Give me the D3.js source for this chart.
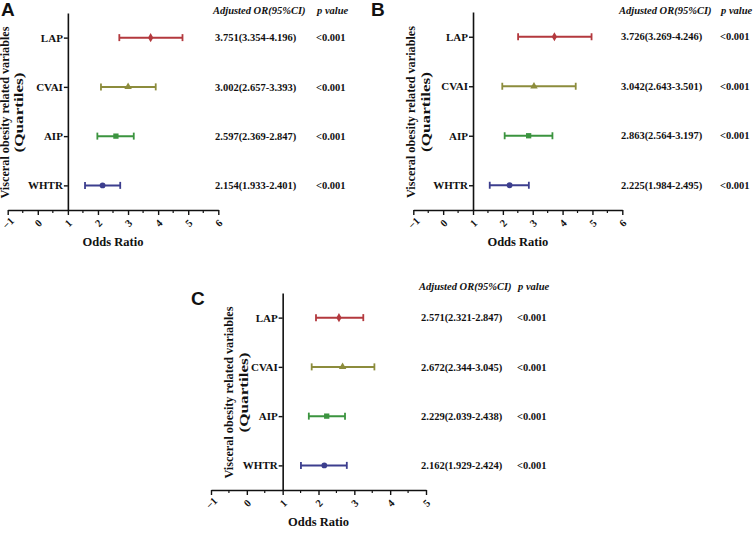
<!DOCTYPE html>
<html>
<head>
<meta charset="utf-8">
<script src="https://cdn.jsdelivr.net/npm/d3@7/dist/d3.min.js"></script>
<style>
  html, body { margin: 0; padding: 0; background: #fff; }
  svg text { font-family: "Liberation Serif", "Times New Roman", serif; font-weight: bold; fill: #111; }
</style>
</head>
<body>
<svg id="chart" width="753" height="541"></svg>
<script>
// ---------- data ----------
const categories = ["LAP", "CVAI", "AIP", "WHTR"];
const colors = ["#b3393e", "#8c8c3c", "#3b943f", "#3c3e8e"];
const markers = ["diamond", "triangle", "square", "circle"];

// Panel A
const orA = [3.751, 3.002, 2.597, 2.154];
const lowA = [2.71, 2.10, 1.98, 1.57];
const highA = [4.81, 3.92, 3.19, 2.74];
const textA = ["3.751(3.354-4.196)", "3.002(2.657-3.393)", "2.597(2.369-2.847)", "2.154(1.933-2.401)"];
const pA = ["<0.001", "<0.001", "<0.001", "<0.001"];

// Panel B
const orB = [3.726, 3.042, 2.863, 2.225];
const lowB = [2.51, 1.98, 2.06, 1.56];
const highB = [4.97, 4.44, 3.66, 2.87];
const textB = ["3.726(3.269-4.246)", "3.042(2.643-3.501)", "2.863(2.564-3.197)", "2.225(1.984-2.495)"];
const pB = ["<0.001", "<0.001", "<0.001", "<0.001"];

// Panel C
const orC = [2.571, 2.672, 2.229, 2.162];
const lowC = [1.93, 1.81, 1.73, 1.51];
const highC = [3.25, 3.56, 2.74, 2.79];
const textC = ["2.571(2.321-2.847)", "2.672(2.344-3.045)", "2.229(2.039-2.438)", "2.162(1.929-2.424)"];
const pC = ["<0.001", "<0.001", "<0.001", "<0.001"];

const ticksAB = [-1, 0, 1, 2, 3, 4, 5, 6];
const ticksC = [-1, 0, 1, 2, 3, 4, 5];

const headerOR = "Adjusted OR(95%CI)";
const headerP = "p value";
const yTitle1 = "Visceral obesity related variables";
const yTitle2 = "(Quartiles)";
const xTitle = "Odds Ratio";

// ---------- drawing ----------
const svg = d3.select("#chart");

function panel(cfg) {
  const g = svg.append("g");
  const x = d3.scaleLinear().domain(cfg.domain).range(cfg.xRange);
  const y = d3.scalePoint().domain(categories).range([cfg.top, cfg.axisY]).padding(0.5);
  const x0 = x(1);

  // x axis major
  const xa = g.append("g").attr("transform", `translate(0,${cfg.axisY})`)
    .call(d3.axisBottom(x).tickValues(cfg.ticks).tickSize(5).tickSizeOuter(0).tickFormat(d3.format("d")));
  xa.select(".domain").attr("stroke", "#111").attr("stroke-width", 1.6);
  xa.selectAll(".tick line").attr("stroke", "#111").attr("stroke-width", 1.4);
  xa.selectAll(".tick text")
    .attr("y", 0).attr("dy", "0.35em")
    .attr("transform", "translate(0,13) rotate(-45)")
    .attr("text-anchor", "middle")
    .style("font-size", "10.5px");
  // minor ticks
  const minor = d3.range(cfg.domain[0] + 0.5, cfg.domain[1], 1);
  g.append("g").attr("transform", `translate(0,${cfg.axisY})`)
    .selectAll("line").data(minor).join("line")
    .attr("x1", d => x(d)).attr("x2", d => x(d))
    .attr("y1", 0).attr("y2", 3)
    .attr("stroke", "#111").attr("stroke-width", 1.2);

  // y axis at OR = 1
  const ya = g.append("g").attr("transform", `translate(${x0},0)`)
    .call(d3.axisLeft(y).tickSize(4).tickSizeOuter(0).tickPadding(1));
  ya.select(".domain").attr("stroke", "#111").attr("stroke-width", 1.6);
  ya.selectAll(".tick line").attr("stroke", "#111").attr("stroke-width", 1.4);
  ya.selectAll(".tick text").style("font-size", "11px");

  // error bars
  const rows = categories.map((c, i) => ({c, i, or: cfg.or[i], lo: cfg.lo[i], hi: cfg.hi[i]}));
  const eb = g.append("g").selectAll("g").data(rows).join("g")
    .attr("stroke", d => colors[d.i]).attr("fill", d => colors[d.i]);
  eb.append("line")
    .attr("x1", d => x(d.lo)).attr("x2", d => x(d.hi))
    .attr("y1", d => y(d.c)).attr("y2", d => y(d.c))
    .attr("stroke-width", 2);
  eb.append("line")
    .attr("x1", d => x(d.lo)).attr("x2", d => x(d.lo))
    .attr("y1", d => y(d.c) - 3.5).attr("y2", d => y(d.c) + 3.5)
    .attr("stroke-width", 1.8);
  eb.append("line")
    .attr("x1", d => x(d.hi)).attr("x2", d => x(d.hi))
    .attr("y1", d => y(d.c) - 3.5).attr("y2", d => y(d.c) + 3.5)
    .attr("stroke-width", 1.8);
  const symMap = {diamond: d3.symbolDiamond, triangle: d3.symbolTriangle, square: d3.symbolSquare, circle: d3.symbolCircle};
  const sizeMap = {diamond: 24, triangle: 24, square: 28, circle: 26};
  eb.append("path")
    .attr("d", d => d3.symbol().type(symMap[markers[d.i]]).size(sizeMap[markers[d.i]])())
    .attr("transform", d => `translate(${x(d.or)},${y(d.c)})`)
    .attr("stroke", "none");

  // table text
  g.append("text").attr("x", cfg.colOR).attr("y", cfg.headY)
    .style("font-size", "10.5px").style("font-style", "italic").text(headerOR);
  g.append("text").attr("x", cfg.colP + 1).attr("y", cfg.headY)
    .style("font-size", "10.5px").style("font-style", "italic").text(headerP);
  g.append("g").selectAll("text").data(rows).join("text")
    .attr("x", cfg.colOR + 2).attr("y", d => y(d.c)).attr("dy", "0.35em")
    .style("font-size", "10.5px").text(d => cfg.text[d.i]);
  g.append("g").selectAll("text").data(rows).join("text")
    .attr("x", cfg.colP).attr("y", d => y(d.c)).attr("dy", "0.35em")
    .style("font-size", "10.5px").text(d => cfg.p[d.i]);

  // titles
  const yc = (cfg.top + cfg.axisY) / 2 + 1;
  g.append("text").attr("transform", `translate(${cfg.yt1},${yc}) rotate(-90)`)
    .attr("text-anchor", "middle").style("font-size", "11.5px")
    .attr("textLength", 172).attr("lengthAdjust", "spacingAndGlyphs").text(yTitle1);
  g.append("text").attr("transform", `translate(${cfg.yt2},${yc}) rotate(-90)`)
    .attr("text-anchor", "middle").style("font-size", "12.5px")
    .attr("textLength", 80).attr("lengthAdjust", "spacingAndGlyphs").text(yTitle2);
  g.append("text").attr("x", (x(cfg.domain[0]) + x(cfg.domain[1])) / 2).attr("y", cfg.axisY + 36)
    .attr("text-anchor", "middle").style("font-size", "12.5px").text(xTitle);

  g.append("text").attr("x", cfg.letterX).attr("y", cfg.letterY)
    .style("font-family", "'Liberation Sans', Arial, sans-serif")
    .style("font-size", "19px").style("font-weight", "bold").text(cfg.letter);
}

panel({letter: "A", letterX: 1, letterY: 16,
  domain: [-1, 6], ticks: ticksAB, xRange: [7.7, 218.3], top: 13, axisY: 210,
  or: orA, lo: lowA, hi: highA, text: textA, p: pA,
  colOR: 213, colP: 316, headY: 14, yt1: 9, yt2: 23});

panel({letter: "B", letterX: 371, letterY: 16,
  domain: [-1, 6], ticks: ticksAB, xRange: [413.3, 622.3], top: 12, axisY: 210,
  or: orB, lo: lowB, hi: highB, text: textB, p: pB,
  colOR: 619, colP: 720, headY: 14, yt1: 415, yt2: 430});

panel({letter: "C", letterX: 191, letterY: 305,
  domain: [-1, 5], ticks: ticksC, xRange: [211, 426], top: 293, axisY: 490,
  or: orC, lo: lowC, hi: highC, text: textC, p: pC,
  colOR: 419, colP: 517, headY: 290, yt1: 233, yt2: 248});
</script>
</body>
</html>
